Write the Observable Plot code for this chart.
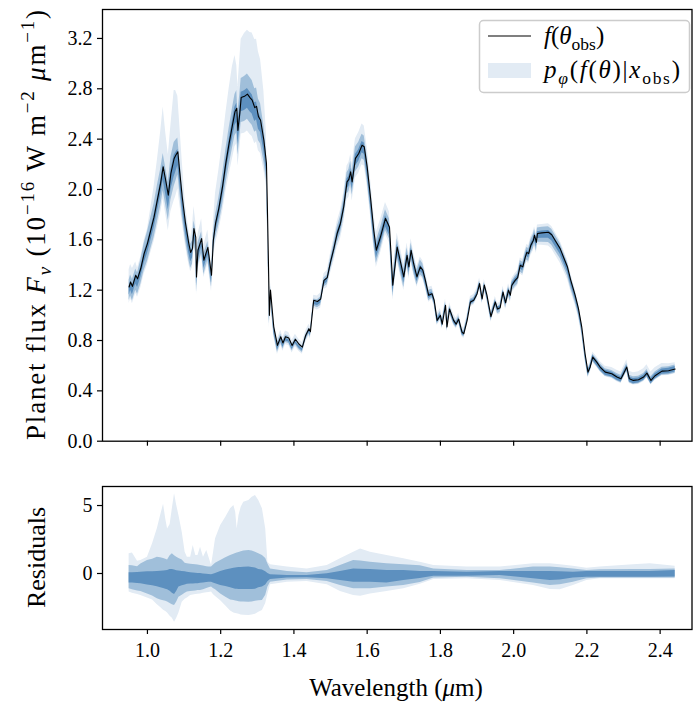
<!DOCTYPE html>
<html><head><meta charset="utf-8">
<script src="https://cdn.jsdelivr.net/npm/d3@7"></script>
<script src="https://cdn.jsdelivr.net/npm/@observablehq/plot@0.6"></script>
<style>
body{margin:0;background:#fff;}
#chart{position:relative;width:693px;height:707px;}
#chart svg{position:absolute;left:0;overflow:visible;}
</style></head><body><div id="chart"></div>
<script>
// ---- spectrum f(theta_obs) ----
const wavelength = [0.950,0.954,0.959,0.968,0.973,0.982,0.991,1.000,1.009,1.018,
1.027,1.036,1.043,1.050,1.057,1.064,1.073,1.077,1.083,1.086,
1.095,1.104,1.113,1.118,1.123,1.127,1.132,1.134,1.138,1.148,
1.154,1.165,1.175,1.180,1.186,1.195,1.205,1.214,1.223,1.232,
1.239,1.244,1.247,1.252,1.256,1.265,1.273,1.280,1.286,1.293,
1.298,1.303,1.309,1.318,1.325,1.327,1.330,1.333,1.336,1.345,
1.355,1.364,1.370,1.377,1.386,1.395,1.404,1.414,1.423,1.432,
1.441,1.445,1.454,1.464,1.473,1.482,1.491,1.500,1.509,1.518,
1.527,1.536,1.545,1.550,1.555,1.559,1.568,1.577,1.586,1.592,
1.600,1.609,1.618,1.625,1.636,1.650,1.661,1.670,1.682,1.691,
1.700,1.709,1.714,1.720,1.727,1.736,1.745,1.752,1.759,1.768,
1.777,1.783,1.791,1.800,1.805,1.814,1.818,1.825,1.836,1.843,
1.850,1.859,1.864,1.873,1.882,1.891,1.900,1.907,1.914,1.920,
1.927,1.938,1.950,1.956,1.963,1.971,1.978,1.986,1.991,1.995,
2.004,2.011,2.018,2.025,2.032,2.036,2.041,2.047,2.054,2.057,
2.062,2.065,2.077,2.095,2.104,2.113,2.127,2.136,2.147,2.156,
2.168,2.177,2.186,2.195,2.203,2.209,2.216,2.227,2.236,2.250,
2.268,2.282,2.293,2.300,2.309,2.316,2.327,2.341,2.355,2.364,
2.375,2.386,2.405,2.423,2.441];
const flux = [1.225,1.265,1.23,1.318,1.29,1.374,1.49,1.57,1.676,1.78,
1.915,2.05,2.18,2.07,1.955,2.127,2.247,2.27,2.30,2.207,
1.94,1.73,1.57,1.50,1.53,1.69,1.62,1.305,1.517,1.61,
1.438,1.54,1.318,1.597,1.73,1.85,2.02,2.207,2.366,2.51,
2.617,2.645,2.47,2.60,2.73,2.74,2.758,2.73,2.71,2.65,
2.66,2.58,2.55,2.39,2.207,1.94,1.49,1.0,1.2,0.907,
0.761,0.83,0.78,0.83,0.82,0.76,0.81,0.77,0.748,0.84,
0.894,0.87,1.12,1.11,1.13,1.278,1.30,1.424,1.53,1.65,
1.73,1.862,2.06,2.08,2.14,2.06,2.247,2.286,2.352,2.34,
2.18,1.94,1.676,1.517,1.62,1.77,1.70,1.239,1.543,1.425,
1.305,1.477,1.385,1.517,1.41,1.305,1.385,1.36,1.278,1.159,
1.172,1.12,0.96,1.00,0.93,1.08,0.907,1.05,0.96,0.93,
0.97,0.867,0.854,0.96,1.106,1.12,1.17,1.252,1.13,1.24,
1.16,0.99,1.106,1.05,1.06,1.185,1.10,1.20,1.16,1.239,
1.278,1.30,1.398,1.385,1.464,1.50,1.49,1.557,1.597,1.637,
1.58,1.65,1.655,1.66,1.64,1.597,1.53,1.464,1.384,1.278,
1.159,1.053,0.907,0.695,0.549,0.59,0.668,0.628,0.589,0.549,
0.536,0.51,0.496,0.536,0.589,0.496,0.483,0.488,0.51,0.541,
0.483,0.52,0.557,0.56,0.573];

// ---- residual quantile bands (units of noise sigma) ----
const resWave = [0.950,0.959,0.973,0.982,1.000,1.014,1.027,1.036,1.044,1.050,
1.055,1.062,1.068,1.074,1.080,1.086,1.095,1.103,1.109,1.118,
1.125,1.132,1.138,1.145,1.153,1.162,1.168,1.175,1.180,1.186,
1.200,1.214,1.227,1.236,1.241,1.245,1.250,1.256,1.263,1.277,
1.286,1.295,1.304,1.314,1.323,1.329,1.336,1.382,1.436,1.491,
1.527,1.563,1.582,1.609,1.654,1.700,1.745,1.782,1.873,1.963,
2.054,2.100,2.127,2.163,2.200,2.236,2.327,2.373,2.441];
const resHi3 = [1.45,1.5,0.9,0.96,1.2,2.18,3.3,4.26,5.1,4.0,
3.28,3.6,4.76,5.86,5.0,4.26,3.04,1.57,1.2,1.2,
2.06,1.32,1.32,1.94,1.2,1.69,1.2,0.59,1.45,2.55,
3.53,4.14,4.76,5.0,4.51,3.28,4.26,4.88,5.24,5.37,
5.61,5.74,5.37,4.76,3.28,0.83,0.64,0.47,0.34,0.59,
1.08,1.57,1.81,1.57,1.32,1.08,0.83,0.59,0.47,0.47,
0.71,0.71,0.64,0.54,0.39,0.47,0.64,0.71,0.54];
const resHi2 = [0.59,0.57,0.5,0.7,0.96,1.05,1.2,1.15,1.1,1.05,
1.0,1.3,1.45,1.3,1.2,1.1,1.0,0.75,0.71,0.68,
0.66,0.65,0.62,0.59,0.55,0.5,0.48,0.47,0.6,0.75,
0.96,1.15,1.32,1.42,1.47,1.5,1.55,1.6,1.65,1.69,
1.65,1.57,1.45,1.32,1.1,0.7,0.34,0.15,0.05,0.22,
0.59,0.96,0.92,0.83,0.71,0.64,0.57,0.34,0.22,0.22,
0.47,0.47,0.42,0.34,0.22,0.27,0.3,0.3,0.34];
const resHi1 = [0.05,0.06,0.08,0.1,0.12,0.13,0.15,0.17,0.18,0.2,
0.22,0.3,0.3,0.25,0.2,0.18,0.15,0.12,0.1,0.05,
0.03,0.02,0.0,0.0,-0.03,-0.05,-0.08,-0.1,-0.05,0.0,
0.15,0.25,0.33,0.39,0.4,0.42,0.44,0.45,0.46,0.47,
0.45,0.4,0.3,0.25,0.12,0.0,-0.1,-0.15,-0.15,-0.02,
0.15,0.34,0.32,0.29,0.22,0.22,0.15,0.15,0.1,0.15,
0.15,0.15,0.12,0.1,0.15,0.15,0.15,0.15,0.22];
const resLo1 = [-0.69,-0.7,-0.73,-0.76,-0.85,-0.9,-0.98,-1.05,-1.1,-1.15,
-1.2,-1.3,-1.45,-1.55,-1.3,-1.0,-0.9,-0.85,-0.8,-0.78,
-0.77,-0.76,-0.75,-0.72,-0.7,-0.67,-0.65,-0.64,-0.7,-0.75,
-0.88,-0.95,-1.05,-1.13,-1.15,-1.16,-1.17,-1.18,-1.18,-1.18,
-1.17,-1.15,-1.05,-1.0,-0.85,-0.6,-0.44,-0.34,-0.32,-0.39,
-0.51,-0.64,-0.64,-0.64,-0.69,-0.51,-0.37,-0.2,-0.2,-0.15,
-0.39,-0.51,-0.47,-0.34,-0.27,-0.27,-0.27,-0.27,-0.25];
const resLo2 = [-1.13,-1.2,-1.28,-1.32,-1.5,-1.65,-1.85,-1.95,-2.0,-2.05,
-2.1,-2.2,-2.3,-2.35,-2.1,-1.74,-1.6,-1.45,-1.37,-1.33,
-1.3,-1.28,-1.26,-1.25,-1.2,-1.1,-1.05,-1.0,-1.1,-1.2,
-1.5,-1.75,-1.95,-1.99,-2.02,-2.05,-2.07,-2.09,-2.1,-2.11,
-2.1,-2.05,-2.0,-1.99,-1.6,-1.0,-0.64,-0.47,-0.44,-0.59,
-0.88,-1.13,-1.13,-1.13,-1.0,-0.88,-0.66,-0.34,-0.27,-0.39,
-0.69,-0.88,-0.83,-0.64,-0.39,-0.34,-0.34,-0.34,-0.34];
const resLo3 = [-1.37,-1.45,-1.55,-1.62,-1.8,-1.95,-2.3,-2.5,-2.7,-2.8,
-2.9,-3.15,-3.3,-3.58,-3.3,-2.9,-2.11,-1.9,-1.8,-1.62,
-1.58,-1.55,-1.52,-1.5,-1.45,-1.42,-1.4,-1.37,-1.55,-1.7,
-2.0,-2.4,-2.75,-2.9,-2.95,-2.97,-3.0,-3.05,-3.08,-3.09,
-3.05,-3.0,-2.85,-2.72,-2.2,-1.5,-0.83,-0.64,-0.59,-0.83,
-1.32,-1.62,-1.67,-1.5,-1.32,-1.13,-0.8,-0.44,-0.39,-0.51,
-0.88,-1.18,-1.2,-0.88,-0.51,-0.39,-0.39,-0.39,-0.39];
const noiseSigma = 0.095; // flux units per residual unit

const xTicks = [1.0,1.2,1.4,1.6,1.8,2.0,2.2,2.4];
const fluxTicks = [0.0,0.4,0.8,1.2,1.6,2.0,2.4,2.8,3.2];
const resTicks = [0,5];

const cLight = "#e2ebf4", cMid = "#a0bfda", cDark = "#5d90bf";
const FONT = "'Liberation Serif', 'DejaVu Serif', serif";
const TICK = 20, LAB = 25, LABY = 27;

// build tables
const spec = wavelength.map((w, i) => ({w, f: flux[i]}));
const bandKeys = {lo3: resLo3, lo2: resLo2, lo1: resLo1, hi1: resHi1, hi2: resHi2, hi3: resHi3};
const qs = Object.fromEntries(Object.entries(bandKeys).map(([k, a]) => [k, d3.scaleLinear(resWave, a).clamp(true)]));
const specBand = spec.map(d => {
  const o = {w: d.w};
  for (const k in qs) o[k] = d.f + noiseSigma * qs[k](d.w);
  return o;
});
const res = resWave.map((w, i) => ({w, lo3: resLo3[i], lo2: resLo2[i], lo1: resLo1[i], hi1: resHi1[i], hi2: resHi2[i], hi3: resHi3[i]}));

const xDomain = [0.8773, 2.487];
const common = {
  width: 693, marginLeft: 102, marginRight: 1.5,
  style: {fontFamily: FONT, fontSize: TICK + "px", color: "black", background: "transparent", overflow: "visible"},
  x: {domain: xDomain}
};
function bands(data) {
  return [
    Plot.areaY(data, {x: "w", y1: "lo3", y2: "hi3", fill: cLight}),
    Plot.areaY(data, {x: "w", y1: "lo2", y2: "hi2", fill: cMid}),
    Plot.areaY(data, {x: "w", y1: "lo1", y2: "hi1", fill: cDark})
  ];
}

const topPlot = Plot.plot({
  ...common, height: 450, marginTop: 9, marginBottom: 9.3,
  y: {domain: [0, 3.43]},
  marks: [
    ...bands(specBand),
    Plot.lineY(spec, {x: "w", y: "f", stroke: "black", strokeWidth: 1.1}),
    Plot.frame({stroke: "black", strokeWidth: 1.3}),
    Plot.axisY(fluxTicks, {tickFormat: d => d.toFixed(1), tickSize: 5, tickPadding: 5, label: null, strokeWidth: 1.2}),
    Plot.axisX(xTicks, {tickSize: 5, tickFormat: () => "", label: null, strokeWidth: 1.2})
  ]
});
const botPlot = Plot.plot({
  ...common, height: 257, marginTop: 36, marginBottom: 78,
  y: {domain: [-4.12, 6.40]},
  marks: [
    ...bands(res),
    Plot.frame({stroke: "black", strokeWidth: 1.3}),
    Plot.axisY(resTicks, {tickFormat: d => String(d), tickSize: 5, tickPadding: 5, label: null, strokeWidth: 1.2}),
    Plot.axisX(xTicks, {tickFormat: d => d.toFixed(1), tickSize: 5, tickPadding: 8, label: null, strokeWidth: 1.2})
  ]
});
topPlot.style.top = "0px";
botPlot.style.top = "450px";
const chart = document.getElementById("chart");
chart.appendChild(topPlot);
chart.appendChild(botPlot);

function rich(text, parts, size) {
  let shift = 0;
  for (const p of parts) {
    const tsp = text.append("tspan").text(p.t);
    const target = p.s === "sup" ? -0.42 * size : p.s === "sub" ? 0.22 * size : 0;
    tsp.attr("dy", target - shift);
    shift = target;
    if (p.s) tsp.attr("font-size", size * 0.7);
    if (p.i) tsp.attr("font-style", "italic");
  }
}
const tsel = d3.select(topPlot), bsel = d3.select(botPlot);
// y label top
const yl = tsel.append("text").attr("transform", "translate(45,225) rotate(-90)")
  .attr("text-anchor", "middle").attr("font-size", LABY).attr("font-family", FONT).attr("fill", "black")
  .attr("textLength", 430).attr("lengthAdjust", "spacing");
rich(yl, [{t: "Planet flux "}, {t: "F", i: 1}, {t: "ν", i: 1, s: "sub"}, {t: " (10"}, {t: "−16", s: "sup"},
  {t: " W m"}, {t: "−2", s: "sup"}, {t: " "}, {t: "μ", i: 1}, {t: "m"}, {t: "−1", s: "sup"}, {t: ")"}], LABY);
// y label bottom
bsel.append("text").attr("transform", "translate(45,107.5) rotate(-90)").attr("text-anchor", "middle")
  .attr("font-size", LAB + 1).attr("font-family", FONT).attr("fill", "black").text("Residuals");
// x label
const xl = bsel.append("text").attr("x", 396).attr("y", 246).attr("text-anchor", "middle")
  .attr("font-size", LAB).attr("font-family", FONT).attr("fill", "black");
rich(xl, [{t: "Wavelength ("}, {t: "μ", i: 1}, {t: "m)"}], LAB);

// legend
const lg = tsel.append("g").attr("font-family", FONT).attr("fill", "black").attr("text-anchor", "start");
lg.append("rect").attr("x", 479.5).attr("y", 20.5).attr("width", 210).attr("height", 72).attr("rx", 4)
  .attr("fill", "white").attr("fill-opacity", 0.8).attr("stroke", "#cccccc").attr("stroke-width", 1.5);
lg.append("line").attr("x1", 488).attr("x2", 531).attr("y1", 36).attr("y2", 36).attr("stroke", "black").attr("stroke-width", 1.1);
lg.append("rect").attr("x", 488).attr("y", 63).attr("width", 43).attr("height", 15).attr("fill", cLight);
const LG = 25;
const t1 = lg.append("text").attr("x", 544).attr("y", 44).attr("font-size", LG);
rich(t1, [{t: "f", i: 1}, {t: "("}, {t: "θ", i: 1}, {t: "obs", s: "sub"}, {t: ")"}], LG);
const t2 = lg.append("text").attr("x", 544).attr("y", 78).attr("font-size", LG)
  .attr("textLength", 136).attr("lengthAdjust", "spacing");
rich(t2, [{t: "p", i: 1}, {t: "φ", i: 1, s: "sub"}, {t: "("}, {t: "f", i: 1}, {t: "("}, {t: "θ", i: 1}, {t: ")|"},
  {t: "x", i: 1}, {t: "obs", s: "sub"}, {t: ")"}], LG);
</script></body></html>
